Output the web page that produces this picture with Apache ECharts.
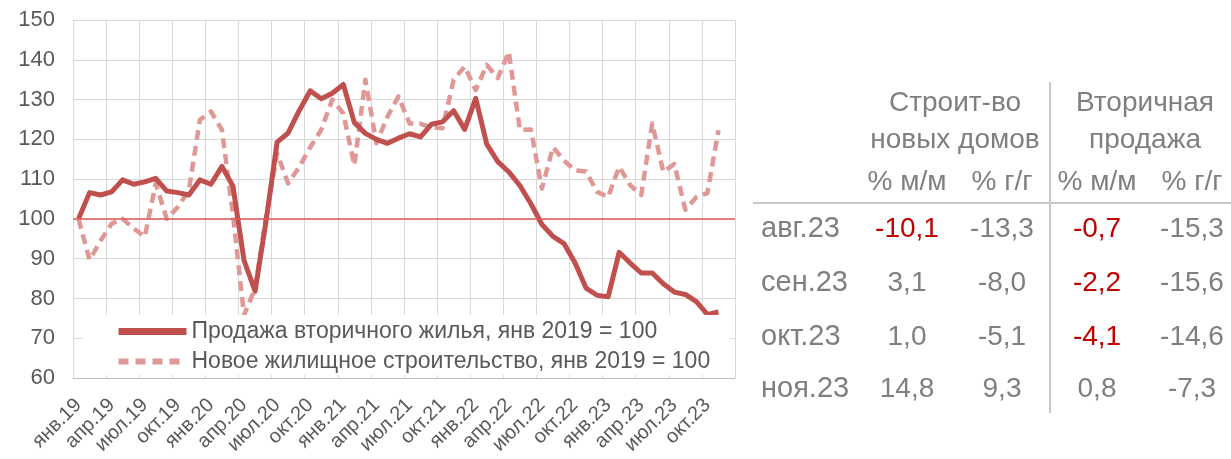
<!DOCTYPE html>
<html>
<head>
<meta charset="utf-8">
<script src="https://cdn.jsdelivr.net/npm/echarts@6/dist/echarts.min.js"></script>
<style>html,body{margin:0;padding:0;background:#fff}#c{width:1231px;height:459px}</style>
</head>
<body>
<div id="c"></div>
<script>
var monthNames = ['янв','фев','мар','апр','май','июн','июл','авг','сен','окт','ноя','дек'];
var years = ['19','20','21','22','23'];
var categories = [];
years.forEach(function(y){ monthNames.forEach(function(m){ categories.push(m + '.' + y); }); });

var secondarySales = [100,106.6,106,106.8,109.8,108.7,109.3,110.2,107,106.6,106,109.8,
  108.7,113.2,108.2,89.6,81.8,99.5,119.3,121.6,127.2,132.2,130.2,131.6,
  133.8,124.2,121.5,120,119,120.3,121.4,120.6,123.8,124.4,127.2,122.5,
  130.3,118.8,114.4,111.8,108.4,103.8,98.6,95.6,93.8,89.0,82.6,80.8,
  80.4,91.6,88.9,86.4,86.4,83.7,81.6,81.0,79.2,76.0,76.6];
var newConstruction = [100,89.7,94.5,98.8,100,97.6,95.5,108.9,100,103,107.2,124.9,
  127,122.4,101,75.8,82.5,100.5,116.5,108.9,113,118,122.4,130,
  126.5,113.5,135,119,125.7,130.8,124,123.9,123,122.8,135,138.3,
  132.4,138.7,135.4,142,122.4,122.5,107.6,118.0,114.7,112.2,111.9,106.8,
  105.5,113.1,108.5,106,124,111.8,113.8,102.3,105.5,106.5,122.3];

var seriesNames = ['Продажа вторичного жилья, янв 2019 = 100', 'Новое жилищное строительство, янв 2019 = 100'];

var tableGroups = ['Строит-во\nновых домов', 'Вторичная\nпродажа'];
var tableSubHeads = ['% м/м', '% г/г', '% м/м', '% г/г'];
var tableRows = ['авг.23', 'сен.23', 'окт.23', 'ноя.23'];
var tableValues = [
  ['-10,1', '-13,3', '-0,7', '-15,3'],
  ['3,1', '-8,0', '-2,2', '-15,6'],
  ['1,0', '-5,1', '-4,1', '-14,6'],
  ['14,8', '9,3', '0,8', '-7,3']
];
var mmColumns = [true, false, true, false];

var FONT = '"Liberation Sans", Arial, sans-serif';
var GRAY = '#7f7f7f';
var colX = [907, 1002, 1097, 1192];
var rowY = [229, 283, 337, 389];
var graphics = [];
[[955, tableGroups[0]], [1145, tableGroups[1]]].forEach(function(g){
  var lines = g[1].split('\n');
  lines.forEach(function(t, k){
    graphics.push({type:'text', x:g[0], y:[103,140][k], style:{text:t, align:'center', verticalAlign:'middle', fill:GRAY, font:'28px ' + FONT}});
  });
});
tableSubHeads.forEach(function(t, j){
  graphics.push({type:'text', x:colX[j], y:182, style:{text:t, align:'center', verticalAlign:'middle', fill:GRAY, font:'28px ' + FONT}});
});
tableRows.forEach(function(r, i){
  graphics.push({type:'text', x:761, y:rowY[i], style:{text:r, align:'left', verticalAlign:'middle', fill:GRAY, font:'29px ' + FONT}});
  tableValues[i].forEach(function(v, j){
    var red = mmColumns[j] && v.charAt(0) === '-';
    graphics.push({type:'text', x:colX[j], y:rowY[i], style:{text:v, align:'center', verticalAlign:'middle', fill: red ? '#c00000' : GRAY, font:'28px ' + FONT}});
  });
});
graphics.push({type:'line', shape:{x1:753, y1:203, x2:1231, y2:203}, style:{stroke:'#c8c8c8', lineWidth:2}});
graphics.push({type:'line', shape:{x1:1050, y1:82, x2:1050, y2:413}, style:{stroke:'#c8c8c8', lineWidth:2}});

var chart = echarts.init(document.getElementById('c'), null, {renderer:'canvas'});
chart.setOption({
  animation: false,
  backgroundColor: '#fff',
  textStyle: {fontFamily: FONT},
  grid: {left: 73, right: 496, top: 20, bottom: 81, containLabel: false},
  legend: {
    orient: 'vertical', left: 83, top: 315,
    backgroundColor: '#fff',
    padding: [5, 20, 2, 32],
    itemWidth: 68, itemHeight: 14, itemGap: 7,
    itemStyle: {opacity: 0},
    textStyle: {fontSize: 23, color: '#595959', fontFamily: FONT},
    data: [
      {name: seriesNames[0], lineStyle: {width: 7}},
      {name: seriesNames[1], lineStyle: {width: 6, type: [10, 7]}}
    ]
  },
  xAxis: {
    type: 'category', data: categories, boundaryGap: true,
    axisLine: {show: true, lineStyle: {color: '#bfbfbf', width: 1}},
    axisTick: {show: false},
    axisLabel: {interval: 2, rotate: 45, fontSize: 20, color: '#595959', margin: 24, fontFamily: FONT},
    splitLine: {show: true, interval: 2, lineStyle: {color: '#d9d9d9', width: 1}}
  },
  yAxis: {
    type: 'value', min: 60, max: 150, interval: 10,
    axisLine: {show: true, lineStyle: {color: '#d9d9d9'}},
    axisTick: {show: false},
    axisLabel: {fontSize: 22, color: '#595959', margin: 18, fontFamily: FONT},
    splitLine: {show: true, lineStyle: {color: '#d9d9d9', width: 1}}
  },
  series: [
    {
      name: seriesNames[0], type: 'line', data: secondarySales, symbol: 'none', z: 3,
      lineStyle: {color: '#c0504d', width: 5, join: 'round'},
      itemStyle: {color: '#c0504d'},
      markLine: {silent: true, symbol: 'none', label: {show: false},
        lineStyle: {color: '#d9595a', width: 1.5, type: 'solid'},
        data: [{yAxis: 100}]}
    },
    {
      name: seriesNames[1], type: 'line', data: newConstruction, symbol: 'none', z: 2,
      lineStyle: {color: '#e09896', width: 4.5, type: [10, 6], join: 'round'},
      itemStyle: {color: '#e09896'}
    }
  ],
  graphic: graphics
});
</script>
</body>
</html>
